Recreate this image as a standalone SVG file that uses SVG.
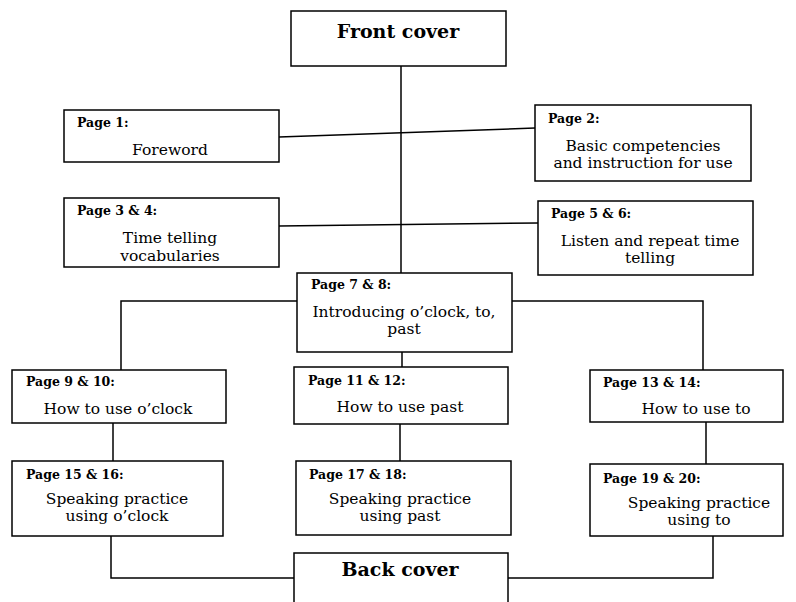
<svg xmlns="http://www.w3.org/2000/svg" width="796" height="602" viewBox="0 0 796 602">
<style>
.box{fill:#fff;stroke:#000;stroke-width:1.5}
.ln{fill:none;stroke:#000;stroke-width:1.5}
.pg{font-family:"DejaVu Serif","Liberation Serif",serif;font-size:12.5px;font-weight:bold;fill:#000}
.tx{font-family:"DejaVu Serif","Liberation Serif",serif;font-size:15.5px;fill:#000;text-anchor:middle}
.tt{font-family:"DejaVu Serif","Liberation Serif",serif;font-size:19px;font-weight:bold;fill:#000;text-anchor:middle}
</style>
<rect width="796" height="602" fill="#fff"/>
<g id="connectors">
<line class="ln" x1="401" y1="66" x2="401" y2="273"/>
<line class="ln" x1="279" y1="137" x2="535" y2="128"/>
<line class="ln" x1="279" y1="226" x2="538" y2="223"/>
<polyline class="ln" points="297,301 121,301 121,370"/>
<polyline class="ln" points="512,301 703,301 703,370"/>
<line class="ln" x1="402" y1="352" x2="402" y2="367"/>
<line class="ln" x1="113" y1="423" x2="113" y2="461"/>
<line class="ln" x1="400" y1="424" x2="400" y2="461"/>
<line class="ln" x1="706" y1="422" x2="706" y2="464"/>
<polyline class="ln" points="111,536 111,578 294,578"/>
<polyline class="ln" points="508,578 713,578 713,536"/>
</g>
<g id="front-cover">
<rect class="box" x="291" y="11" width="215" height="55"/>
<text class="tt" x="398" y="38">Front cover</text>
</g>
<g id="page1">
<rect class="box" x="64" y="110" width="215" height="52"/>
<text class="pg" x="77" y="127">Page 1:</text>
<text class="tx" x="170" y="155">Foreword</text>
</g>
<g id="page2">
<rect class="box" x="535" y="105" width="216" height="76"/>
<text class="pg" x="548" y="123">Page 2:</text>
<text class="tx" x="643" y="151">Basic competencies</text>
<text class="tx" x="643" y="168">and instruction for use</text>
</g>
<g id="page3-4">
<rect class="box" x="64" y="198" width="215" height="69"/>
<text class="pg" x="77" y="215">Page 3 &amp; 4:</text>
<text class="tx" x="170" y="243">Time telling</text>
<text class="tx" x="170" y="261">vocabularies</text>
</g>
<g id="page5-6">
<rect class="box" x="538" y="201" width="215" height="74"/>
<text class="pg" x="551" y="218">Page 5 &amp; 6:</text>
<text class="tx" x="650" y="246">Listen and repeat time</text>
<text class="tx" x="650" y="263">telling</text>
</g>
<g id="page7-8">
<rect class="box" x="297" y="273" width="215" height="79"/>
<text class="pg" x="311" y="289">Page 7 &amp; 8:</text>
<text class="tx" x="404" y="317">Introducing o’clock, to,</text>
<text class="tx" x="404" y="334">past</text>
</g>
<g id="page9-10">
<rect class="box" x="12" y="370" width="214" height="53"/>
<text class="pg" x="26" y="386">Page 9 &amp; 10:</text>
<text class="tx" x="118" y="414">How to use o’clock</text>
</g>
<g id="page11-12">
<rect class="box" x="294" y="367" width="214" height="57"/>
<text class="pg" x="308" y="385">Page 11 &amp; 12:</text>
<text class="tx" x="400" y="412">How to use past</text>
</g>
<g id="page13-14">
<rect class="box" x="590" y="370" width="193" height="52"/>
<text class="pg" x="603" y="387">Page 13 &amp; 14:</text>
<text class="tx" x="696" y="414">How to use to</text>
</g>
<g id="page15-16">
<rect class="box" x="12" y="461" width="211" height="75"/>
<text class="pg" x="26" y="479">Page 15 &amp; 16:</text>
<text class="tx" x="117" y="504">Speaking practice</text>
<text class="tx" x="117" y="521">using o’clock</text>
</g>
<g id="page17-18">
<rect class="box" x="296" y="461" width="215" height="74"/>
<text class="pg" x="309" y="479">Page 17 &amp; 18:</text>
<text class="tx" x="400" y="504">Speaking practice</text>
<text class="tx" x="400" y="521">using past</text>
</g>
<g id="page19-20">
<rect class="box" x="590" y="464" width="193" height="72"/>
<text class="pg" x="603" y="483">Page 19 &amp; 20:</text>
<text class="tx" x="699" y="508">Speaking practice</text>
<text class="tx" x="699" y="525">using to</text>
</g>
<g id="back-cover">
<rect class="box" x="294" y="553" width="214" height="60"/>
<text class="tt" x="400" y="576">Back cover</text>
</g>
</svg>
